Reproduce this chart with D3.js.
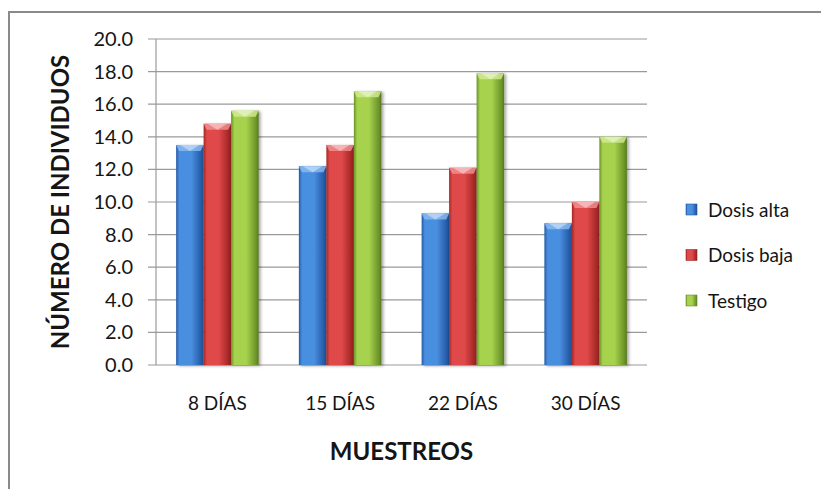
<!DOCTYPE html>
<html>
<head>
<meta charset="utf-8">
<script src="https://cdn.jsdelivr.net/npm/d3@7"></script>
<style>
  body { margin: 0; background: #fff; }
  text { font-family: Lato, "Open Sans", sans-serif; fill: #151515; }
</style>
</head>
<body>
<div id="chart"></div>
<script>

  var categories = ["8 DÍAS", "15 DÍAS", "22 DÍAS", "30 DÍAS"];
  var seriesNames = ["Dosis alta", "Dosis baja", "Testigo"];
  var dosisAlta = [13.5, 12.2, 9.3, 8.7];
  var dosisBaja = [14.8, 13.5, 12.1, 10.0];
  var testigo = [15.6, 16.8, 17.9, 14.0];
  var yTicks = [0, 2, 4, 6, 8, 10, 12, 14, 16, 18, 20];

  var seriesValues = [dosisAlta, dosisBaja, testigo];
  // edge, middle, bevel colours per series
  var palette = [
    { edge: "#245aa6", mid: "#4a8fe0", top: "#8cbcf2" },
    { edge: "#a32624", mid: "#e0494a", top: "#f19494" },
    { edge: "#6a9227", mid: "#a6d24d", top: "#d3ec96" }
  ];

  var chart = {

    init: function(){
      var W = 821, H = 489;
      var m = { left: 156, right: 647, top: 39, bottom: 365 };

      this.svg = d3.select('#chart')
                   .append('svg')
                   .attr('width', W)
                   .attr('height', H);

      var defs = this.svg.append('defs');

      palette.forEach(function(p, i){
        var g = defs.append('linearGradient')
                    .attr('id', 'grad' + i)
                    .attr('x1', '0%').attr('x2', '100%')
                    .attr('y1', '0%').attr('y2', '0%');
        g.append('stop').attr('offset', '0%').attr('stop-color', p.edge);
        g.append('stop').attr('offset', '12%').attr('stop-color', p.mid);
        g.append('stop').attr('offset', '55%').attr('stop-color', p.mid);
        g.append('stop').attr('offset', '92%').attr('stop-color', p.edge);
        g.append('stop').attr('offset', '100%').attr('stop-color', d3.color(p.edge).darker(0.6));
      });

      var f = defs.append('filter').attr('id', 'shadow')
                  .attr('x', '-20%').attr('y', '-10%')
                  .attr('width', '150%').attr('height', '130%');
      f.append('feDropShadow')
       .attr('dx', 2).attr('dy', 1)
       .attr('stdDeviation', 1.6)
       .attr('flood-color', '#000')
       .attr('flood-opacity', 0.35);

      // outer frame
      this.svg.append('rect')
              .attr('x', 9).attr('y', 12)
              .attr('width', 840).attr('height', 520)
              .style('fill', 'none')
              .style('stroke', '#8a8a8a')
              .style('stroke-width', 2);

      var x0 = d3.scaleBand()
                 .domain(categories)
                 .range([m.left, m.right])
                 .paddingInner(0.328)
                 .paddingOuter(0.164);

      var x1 = d3.scaleBand()
                 .domain(d3.range(seriesNames.length))
                 .range([0, x0.bandwidth()]);

      var y = d3.scaleLinear()
                .domain([0, 20])
                .range([m.bottom, m.top]);

      // gridlines
      this.svg.append('g')
              .selectAll('line')
              .data(yTicks)
              .enter().append('line')
              .attr('x1', m.left - 8)
              .attr('x2', m.right)
              .attr('y1', function(d){ return y(d); })
              .attr('y2', function(d){ return y(d); })
              .style('stroke', '#9a9a9a')
              .style('stroke-width', 1.2);

      this.svg.append('line')
              .attr('x1', m.left).attr('x2', m.left)
              .attr('y1', m.top).attr('y2', m.bottom)
              .style('stroke', '#9a9a9a')
              .style('stroke-width', 1.2);

      // tick labels
      this.svg.append('g')
              .selectAll('text')
              .data(yTicks)
              .enter().append('text')
              .attr('x', 133)
              .attr('y', function(d){ return y(d); })
              .attr('dy', '0.35em')
              .attr('text-anchor', 'end')
              .style('font-size', '20px')
              .text(function(d){ return d3.format('.1f')(d); });

      this.svg.append('g')
              .selectAll('text')
              .data(categories)
              .enter().append('text')
              .attr('x', function(d){ return x0(d) + x0.bandwidth()/2; })
              .attr('y', 410)
              .attr('text-anchor', 'middle')
              .style('font-size', '19px')
              .text(function(d){ return d; });

      // bars
      var groups = this.svg.selectAll('.grp')
                       .data(categories)
                       .enter().append('g')
                       .attr('class', 'grp')
                       .attr('transform', function(d){ return 'translate(' + x0(d) + ',0)'; });

      var bars = groups.selectAll('.bar')
                       .data(function(d, ci){
                         return seriesValues.map(function(vals, si){
                           return { s: si, v: vals[ci] };
                         });
                       })
                       .enter().append('g')
                       .attr('class', 'bar')
                       .attr('filter', 'url(#shadow)');

      var bw = x1.bandwidth();
      var bev = 6;

      bars.append('rect')
          .attr('x', function(d){ return x1(d.s); })
          .attr('y', function(d){ return y(d.v); })
          .attr('width', bw)
          .attr('height', function(d){ return y(0) - y(d.v); })
          .style('fill', function(d){ return 'url(#grad' + d.s + ')'; });

      // bevel on top of each bar
      bars.append('path')
          .attr('d', function(d){
            var l = x1(d.s), t = y(d.v);
            return 'M' + l + ',' + t + 'L' + (l + bw) + ',' + t +
                   'L' + (l + bw - 3) + ',' + (t + bev) +
                   'L' + (l + 3) + ',' + (t + bev) + 'Z';
          })
          .style('fill', function(d){ return palette[d.s].top; })
          .style('opacity', 0.8);

      bars.append('path')
          .attr('d', function(d){
            var l = x1(d.s), t = y(d.v);
            return 'M' + (l + 4) + ',' + t + 'L' + (l + bw - 4) + ',' + t +
                   'L' + (l + bw/2) + ',' + (t + bev) + 'Z';
          })
          .style('fill', '#fff')
          .style('opacity', 0.4);

      // axis titles
      this.svg.append('text')
              .attr('transform', 'translate(69,' + ((m.top + m.bottom)/2) + ') rotate(-90)')
              .attr('text-anchor', 'middle')
              .style('font-size', '24px')
              .style('font-weight', 'bold')
              .text('NÚMERO DE INDIVIDUOS');

      this.svg.append('text')
              .attr('x', (m.left + m.right)/2)
              .attr('y', 460)
              .attr('text-anchor', 'middle')
              .style('font-size', '24px')
              .style('font-weight', 'bold')
              .text('MUESTREOS');

      // legend
      var legend = this.svg.selectAll('.leg')
                       .data(seriesNames)
                       .enter().append('g')
                       .attr('class', 'leg')
                       .attr('transform', function(d, i){ return 'translate(686,' + (210 + i*45.5) + ')'; });

      legend.append('rect')
            .attr('x', 0).attr('y', -6)
            .attr('width', 11).attr('height', 11)
            .style('fill', function(d, i){ return 'url(#grad' + i + ')'; })
            .style('stroke', function(d, i){ return palette[i].edge; })
            .style('stroke-width', 0.6);

      legend.append('text')
            .attr('x', 22)
            .attr('y', 0)
            .attr('dy', '0.35em')
            .style('font-size', '19px')
            .text(function(d){ return d; });
    }

  };

  chart.init();
</script>
</body>
</html>
